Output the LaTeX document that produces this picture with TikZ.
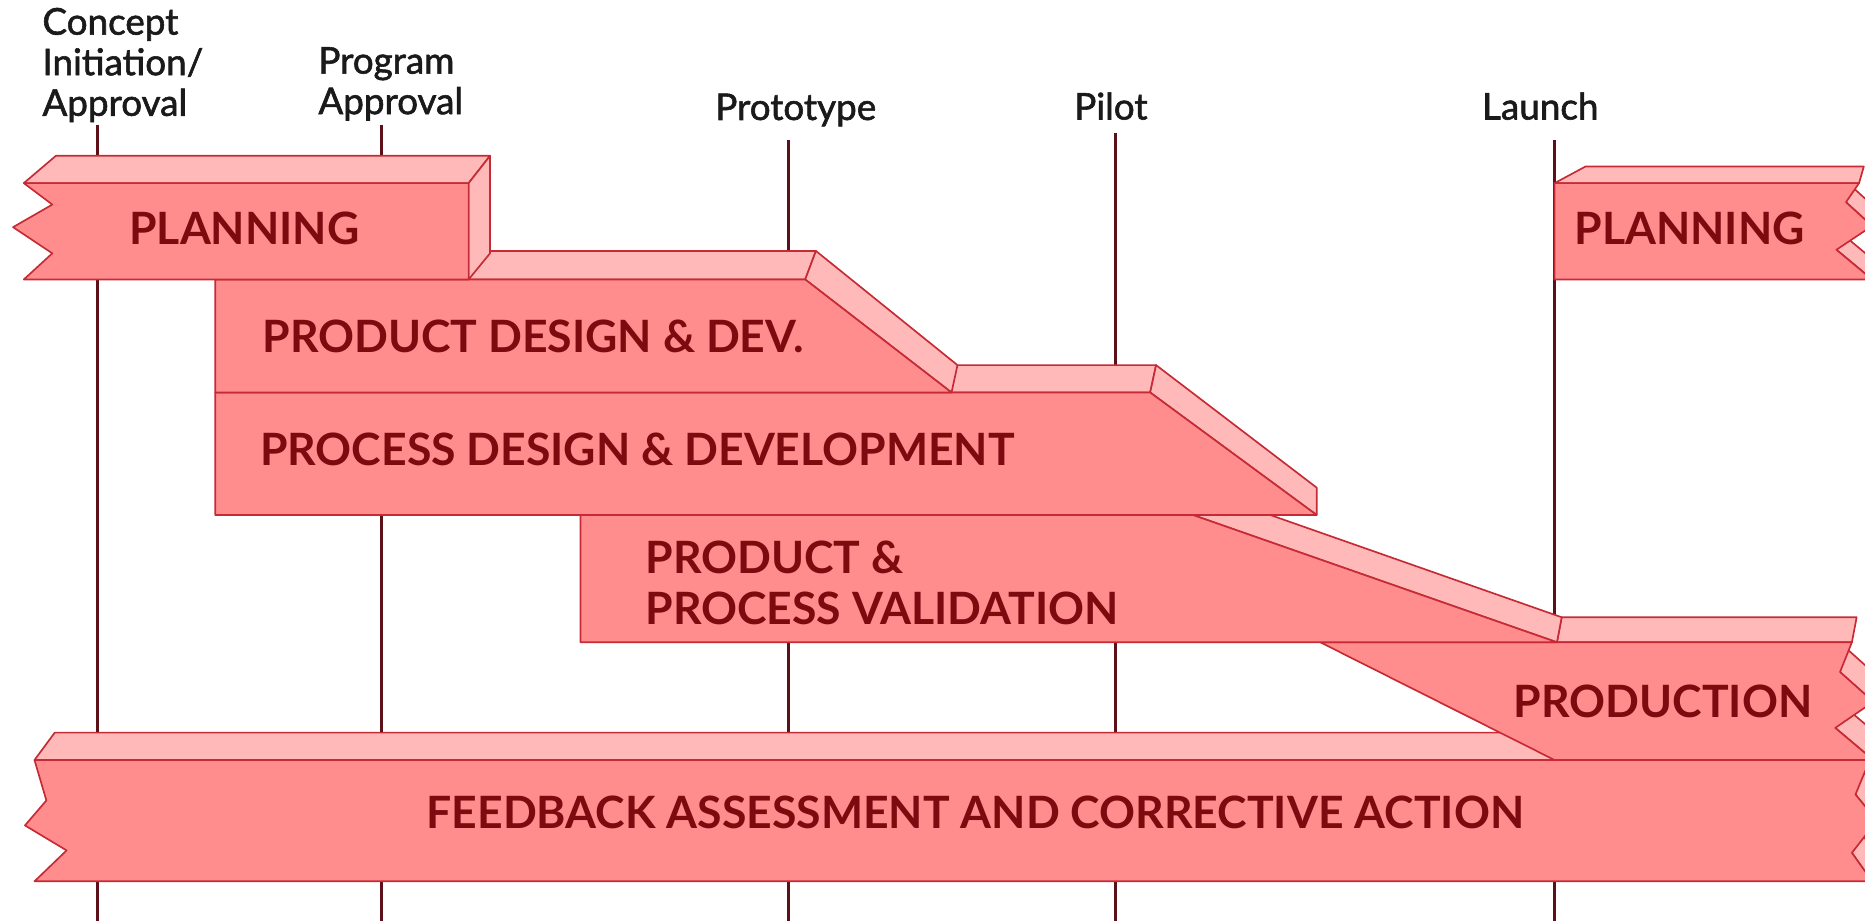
\documentclass[tikz,border=0pt]{standalone}
\usepackage{fontspec}
\setmainfont{Lato}
\newfontfamily\labelfont{Lato}[FakeBold=1.6]
\definecolor{bandfront}{HTML}{FF8D8D}
\definecolor{bandtop}{HTML}{FFB9B9}
\definecolor{bandedge}{HTML}{C62B35}
\definecolor{bandink}{HTML}{7D0A0F}
\definecolor{mscol}{HTML}{5C1018}
\definecolor{labelink}{HTML}{1A1A1A}
\begin{document}
\begin{tikzpicture}[x=0.01cm,y=-0.01cm,
  front/.style={fill=bandfront, draw=bandedge, line width=0.4pt, line join=round},
  face/.style={fill=bandtop, draw=bandedge, line width=0.4pt, line join=round},
  milestone/.style={draw=mscol, line width=0.7pt},
  bandtext/.style={font=\bfseries\fontsize{10.65}{12.2}\selectfont, text=bandink, inner sep=0pt, anchor=west},
  mslabel/.style={font=\labelfont\fontsize{8.8}{9.7}\selectfont, text=labelink, inner sep=0pt, align=left}
]
\useasboundingbox (0,0) rectangle (1568,774);
\clip (0,0) rectangle (1568,774);

% milestone markers
\coordinate (ci-top) at (82,105);   \coordinate (ci-bot) at (82,790);
\coordinate (pa-top) at (321,105);  \coordinate (pa-bot) at (321,790);
\coordinate (pt-top) at (663,118);  \coordinate (pt-bot) at (663,790);
\coordinate (pl-top) at (938,112);  \coordinate (pl-bot) at (938,790);
\coordinate (la-top) at (1307,118); \coordinate (la-bot) at (1307,790);
\draw[milestone] (ci-top) -- (ci-bot);
\draw[milestone] (pa-top) -- (pa-bot);
\draw[milestone] (pt-top) -- (pt-bot);
\draw[milestone] (pl-top) -- (pl-bot);
\draw[milestone] (la-top) -- (la-bot);

% feedback band
\draw[face] (29,639) -- (46,616) -- (1620,616) -- (1620,639) -- cycle;
\draw[face] (1560,668) -- (1578,690) -- (1582,668) -- (1564,646) -- cycle;
\draw[face] (1557,717) -- (1574,741) -- (1578,719) -- (1561,695) -- cycle;
\draw[front] (29,639) -- (1572,639) -- (1560,668) -- (1578,690) -- (1557,717)
  -- (1574,741) -- (29,741) -- (56,715) -- (21,694) -- (39,673) -- cycle;
\node[bandtext] (t-feed) at (358,683) {FEEDBACK ASSESSMENT AND CORRECTIVE ACTION};

% production band
\draw[face] (1547,565) -- (1575,590) -- (1579,569) -- (1551,544) -- cycle;
\draw[face] (1543,612) -- (1575,639) -- (1579,618) -- (1547,591) -- cycle;
\draw[face] (1309,540) -- (1313,519) -- (1561,519) -- (1557,540) -- cycle;
\draw[front] (1110,540) -- (1557,540) -- (1547,565) -- (1575,590) -- (1543,612)
  -- (1575,639) -- (1307,639) -- cycle;
\node[bandtext] (t-prod) at (1272,590) {PRODUCTION};

% product & process validation band
\draw[face] (1003,433) -- (1068,433) -- (1313,519) -- (1309,540) -- cycle;
\draw[front] (488,433) -- (1003,433) -- (1309,540) -- (488,540) -- cycle;
\node[bandtext, anchor=north west, align=left] (t-val) at (542,454)
  {PRODUCT \&\\PROCESS VALIDATION};

% process design & development band
\draw[face] (780,330) -- (780,307) -- (972,307) -- (967,330) -- cycle;
\draw[face] (967,330) -- (972,307) -- (1107,410) -- (1107,433) -- cycle;
\draw[front] (181,330) -- (967,330) -- (1107,433) -- (181,433) -- cycle;
\node[bandtext] (t-proc) at (218,378) {PROCESS DESIGN \& DEVELOPMENT};

% product design & development band
\draw[face] (300,235) -- (300,211) -- (686,211) -- (677,235) -- cycle;
\draw[face] (677,235) -- (686,211) -- (805,307) -- (800,330) -- cycle;
\draw[front] (181,235) -- (677,235) -- (800,330) -- (181,330) -- cycle;
\node[bandtext] (t-pdd) at (220,283) {PRODUCT DESIGN \& DEV.};

% planning band (start)
\draw[face] (20,154) -- (47,131) -- (412,131) -- (394,154) -- cycle;
\draw[face] (394,154) -- (412,131) -- (412,213) -- (394,235) -- cycle;
\draw[front] (20,154) -- (394,154) -- (394,235) -- (20,235) -- (44,213)
  -- (11,191) -- (44,172) -- cycle;
\node[bandtext] (t-plan1) at (108,192) {PLANNING};

% planning band (next cycle)
\draw[face] (1552,170) -- (1574,190) -- (1578,176) -- (1556,156) -- cycle;
\draw[face] (1544,210) -- (1574,235) -- (1578,221) -- (1548,196) -- cycle;
\draw[face] (1307,154) -- (1333,140) -- (1567,140) -- (1563,154) -- cycle;
\draw[front] (1307,154) -- (1563,154) -- (1552,170) -- (1574,190) -- (1544,210)
  -- (1574,235) -- (1307,235) -- cycle;
\node[bandtext] (t-plan2) at (1323,192) {PLANNING};

% milestone labels
\node[mslabel, anchor=north west] (l-ci) at (35,6) {Concept\\Initiation/\\Approval};
\node[mslabel, anchor=north west] (l-pa) at (267,39) {Program\\Approval};
\node[mslabel, anchor=north] (l-pt) at (669,78) {Prototype};
\node[mslabel, anchor=north] (l-pl) at (934,77) {Pilot};
\node[mslabel, anchor=north] (l-la) at (1295,77) {Launch};
\end{tikzpicture}
\end{document}
